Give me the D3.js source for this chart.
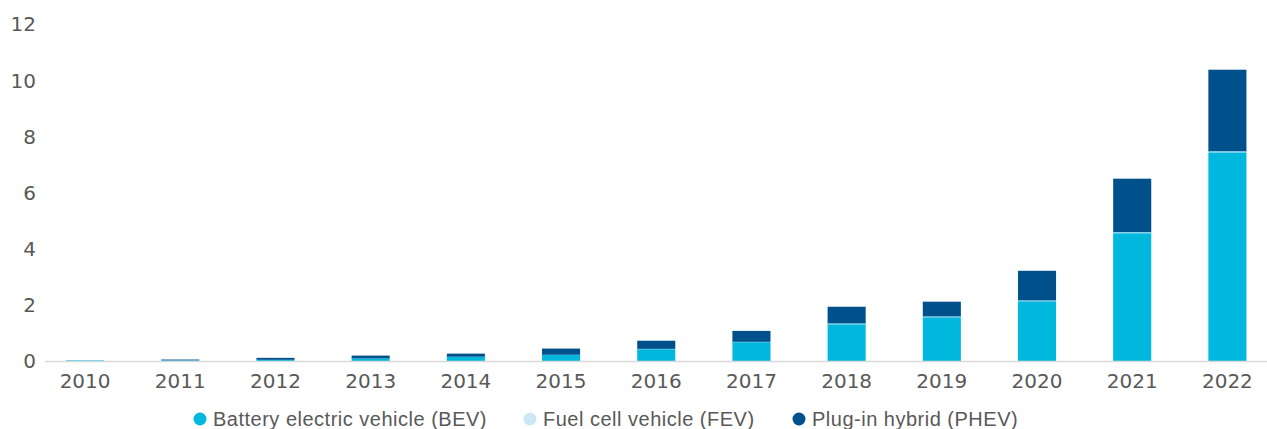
<!DOCTYPE html>
<html>
<head>
<meta charset="utf-8">
<script src="https://cdn.jsdelivr.net/npm/d3@7"></script>
<style>
  body { margin: 0; background: #fff; }
  svg text { font-family: "Liberation Sans", Arial, sans-serif; fill: #595959; }
</style>
</head>
<body>
<div id="chart"></div>
<script>
const years = ['2010','2011','2012','2013','2014','2015','2016','2017','2018','2019','2020','2021','2022'];
const bev  = [0.04, 0.04, 0.06, 0.11, 0.17, 0.24, 0.44, 0.69, 1.33, 1.58, 2.15, 4.57, 7.45];
const fev  = [0.00, 0.00, 0.00, 0.00, 0.00, 0.00, 0.01, 0.01, 0.01, 0.01, 0.01, 0.02, 0.02];
const phev = [0.00, 0.03, 0.07, 0.10, 0.11, 0.22, 0.29, 0.39, 0.61, 0.54, 1.07, 1.92, 2.92];
const yTicks = [0, 2, 4, 6, 8, 10, 12];
const seriesNames = ['Battery electric vehicle (BEV)', 'Fuel cell vehicle (FEV)', 'Plug-in hybrid (PHEV)'];
const seriesColors = ['#00b8de', '#c9e7f5', '#00508b'];

const W = 1267, H = 429;
const svg = d3.select('#chart').append('svg')
    .attr('width', W)
    .attr('height', H);

const rows = years.map((y, i) => ({year: y, bev: bev[i], fev: fev[i], phev: phev[i]}));
const stack = d3.stack().keys(['bev', 'fev', 'phev'])(rows);

const x = d3.scaleBand().domain(years).range([37.5, 1275]).paddingInner(0.6).paddingOuter(0.3);
const y = d3.scaleLinear().domain([0, 12]).range([361.5, 24.5]);

// bars
svg.append('g').selectAll('g')
    .data(stack)
    .enter().append('g')
    .attr('fill', (d, i) => seriesColors[i])
    .selectAll('rect')
    .data(d => d)
    .enter().append('rect')
    .attr('x', d => x(d.data.year))
    .attr('width', x.bandwidth())
    .attr('y', d => y(d[1]))
    .attr('height', d => Math.max(0, y(d[0]) - y(d[1])));

// thin light edge between segments
svg.append('g').selectAll('line')
    .data(rows)
    .enter().append('line')
    .attr('x1', d => x(d.year))
    .attr('x2', d => x(d.year) + x.bandwidth())
    .attr('y1', d => y(d.bev + d.fev))
    .attr('y2', d => y(d.bev + d.fev))
    .attr('stroke', '#8fd3ec')
    .attr('stroke-width', d => d.phev > 0.5 ? 1 : 0);

// x axis
const xAxis = svg.append('g')
    .attr('transform', `translate(0,${y(0)})`)
    .call(d3.axisBottom(x).tickSize(0));
xAxis.select('.domain').attr('stroke', '#d9d9d9').attr('stroke-width', 1.5)
    .attr('d', `M45,0H${W}`);
xAxis.selectAll('text')
    .attr('dy', null)
    .attr('y', 26.5)
    .style('font-family', '"DejaVu Sans", sans-serif')
    .style('font-size', '20px')
    .style('fill', '#595959');

// y axis
const yAxis = svg.append('g')
    .attr('transform', 'translate(36,0)')
    .call(d3.axisLeft(y).tickValues(yTicks).tickSize(0).tickPadding(0));
yAxis.select('.domain').remove();
yAxis.selectAll('text')
    .style('font-family', '"DejaVu Sans", sans-serif')
    .style('font-size', '20px')
    .style('fill', '#595959');

// legend
const legendX = [200, 530, 799];
const legend = svg.append('g').selectAll('g')
    .data(seriesNames)
    .enter().append('g')
    .attr('transform', (d, i) => `translate(${legendX[i]},419)`);
legend.append('circle')
    .attr('r', 6.5)
    .attr('fill', (d, i) => seriesColors[i]);
legend.append('text')
    .attr('x', 13)
    .attr('y', 7)
    .style('font-size', '20px')
    .style('letter-spacing', '0.5px')
    .text(d => d);
</script>
</body>
</html>
